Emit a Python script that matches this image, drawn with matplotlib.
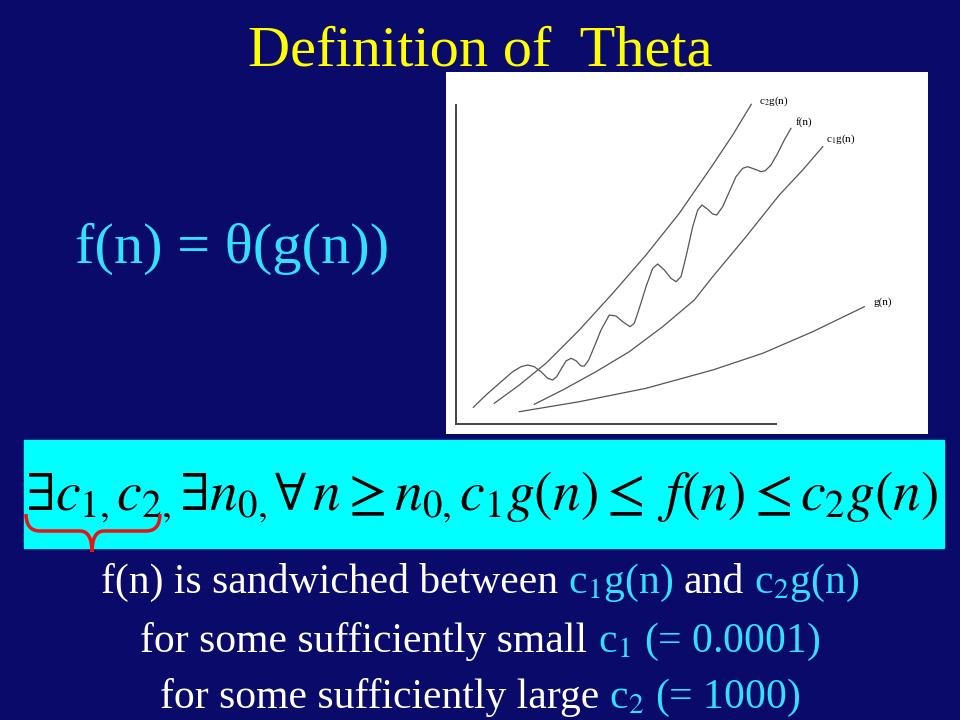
import matplotlib
matplotlib.use("Agg")
import matplotlib.pyplot as plt
from matplotlib.patches import Rectangle, PathPatch
from matplotlib.path import Path

plt.rcParams['mathtext.fontset'] = 'stix'
plt.rcParams['font.family'] = ['Liberation Serif', 'DejaVu Serif']

NAVY = '#0a0a6a'
CYAN_TXT = '#33e0ff'

f_x = [17.3, 30.0, 43.3, 56.7, 65.0, 71.7, 78.3, 85.0, 91.7, 96.7, 100.7, 105.0, 110.0,
       115.0, 120.0, 125.0, 128.3, 132.7, 138.3, 145.0, 153.3, 160.0, 166.7, 174.0,
       178.3, 183.3, 190.0, 196.7, 201.7, 208.3, 215.0, 220.0, 225.0, 230.0, 236.7,
       241.7, 246.0, 251.7, 256.7, 260.7, 266.7, 273.3, 280.0, 286.7, 291.7, 298.3,
       305.0, 309.3, 315.0, 321.7, 328.3, 335.0]
f_y = [16.7, 29.0, 40.7, 52.3, 57.3, 59.0, 57.3, 52.3, 45.7, 44.0, 47.3, 54.7, 63.0,
       65.7, 63.3, 58.0, 58.0, 64.0, 77.3, 94.0, 109.0, 108.0, 102.3, 97.3,
       100.7, 115.7, 137.3, 155.7, 160.0, 154.0, 145.7, 142.3, 147.3, 167.3, 197.3,
       214.0, 219.0, 214.7, 210.0, 209.0, 217.3, 232.3, 247.3, 255.7, 257.3, 255.0,
       252.3, 253.3, 259.0, 270.7, 284.0, 295.7]

c2_x = [38.3, 63.3, 90.0, 123.3, 156.7, 190.0, 223.3, 256.7, 276.7, 295.3]
c2_y = [20.7, 39.0, 60.7, 94.0, 130.7, 169.0, 210.7, 259.0, 289.0, 319.7]

c1_x = [78.3, 106.7, 140.0, 173.3, 206.7, 238.3, 256.7, 290.0, 323.3, 346.7, 366.7]
c1_y = [19.7, 34.0, 52.3, 72.3, 97.3, 124.0, 147.3, 187.3, 229.0, 254.0, 277.3]

g_x = [63.3, 123.3, 190.0, 256.7, 306.7, 356.7, 408.3]
g_y = [12.3, 22.3, 35.7, 54.0, 70.7, 92.3, 117.3]

curve_labels = [r'c$_2$g(n)', 'f(n)', r'c$_1$g(n)', 'g(n)']
label_x = [303, 340, 370, 417]
label_y = [323, 302, 285, 122]

fig = plt.figure(figsize=(9.6, 7.2), dpi=100, facecolor=NAVY)
renderer = fig.canvas.get_renderer()

# slide background in pixel units
bg = fig.add_axes([0, 0, 1, 1])
bg.set_xlim(0, 960)
bg.set_ylim(720, 0)
bg.axis('off')
bg.set_facecolor(NAVY)

bg.text(480, 66, 'Definition of  Theta', color='#ffff00', fontsize=42,
        ha='center', va='baseline')
bg.text(75, 263, 'f(n) = θ(g(n))', color=CYAN_TXT, fontsize=42,
        ha='left', va='baseline')

# the sketch of the curves
ax = fig.add_axes([446 / 960, 1 - 434 / 720, 482 / 960, 362 / 720])
ax.set_xlim(-10, 472)
ax.set_ylim(-10, 352)
ax.set_facecolor('white')
for s in ax.spines.values():
    s.set_visible(False)
ax.set_xticks([])
ax.set_yticks([])

ax.plot([0, 0], [0, 319], color='#444444', lw=1.4)
ax.plot([0, 320], [0, 0], color='#444444', lw=1.4)
for xs, ys in [(f_x, f_y), (c2_x, c2_y), (c1_x, c1_y), (g_x, g_y)]:
    ax.plot(xs, ys, color='#555555', lw=0.9)
for lab, lx, ly in zip(curve_labels, label_x, label_y):
    ax.text(lx, ly, lab, fontsize=8, color='black', ha='left', va='center')

# cyan formula box
bg.add_patch(Rectangle((24, 440), 920, 108, color='#00ffff', zorder=1))
bg.text(481, 497,
        r'$\exists c_{1,} c_{2,} \exists n_{0,} \forall\, n \geq n_{0,} c_1 g(n) \leq\ f(n) \leq c_2 g(n)$',
        fontsize=40, color='black', ha='center', va='center', zorder=2)

# red brace under c1, c2
verts = [(26, 514), (26, 531), (40, 531), (80, 531), (92, 531), (92, 552),
         (92, 531), (104, 531), (146, 531), (160, 531), (160, 514)]
codes = [Path.MOVETO, Path.CURVE3, Path.CURVE3, Path.LINETO, Path.CURVE3, Path.CURVE3,
         Path.CURVE3, Path.CURVE3, Path.LINETO, Path.CURVE3, Path.CURVE3]
bg.add_patch(PathPatch(Path(verts, codes), fill=False, edgecolor='#ee1111', lw=2.5, zorder=3))


def rich_line(y, parts, size):
    texts = []
    for s, c in parts:
        texts.append(bg.text(0, y, s, color=c, fontsize=size, ha='left', va='baseline'))
    widths = [t.get_window_extent(renderer).width for t in texts]
    gap = size * 0.25 * 100 / 72
    total = sum(widths) + gap * (len(texts) - 1)
    x = 480 - total / 2
    for t, w in zip(texts, widths):
        t.set_x(x)
        x += w + gap


rich_line(593, [('f(n) is sandwiched between', 'white'), (r'c$_1$g(n)', CYAN_TXT),
                ('and', 'white'), (r'c$_2$g(n)', CYAN_TXT)], 30)
rich_line(652, [('for some sufficiently small', 'white'), (r'c$_1$ (= 0.0001)', CYAN_TXT)], 30)
rich_line(708, [('for some sufficiently large', 'white'), (r'c$_2$ (= 1000)', CYAN_TXT)], 30)

fig.savefig('out.png', dpi=100, facecolor=NAVY)
